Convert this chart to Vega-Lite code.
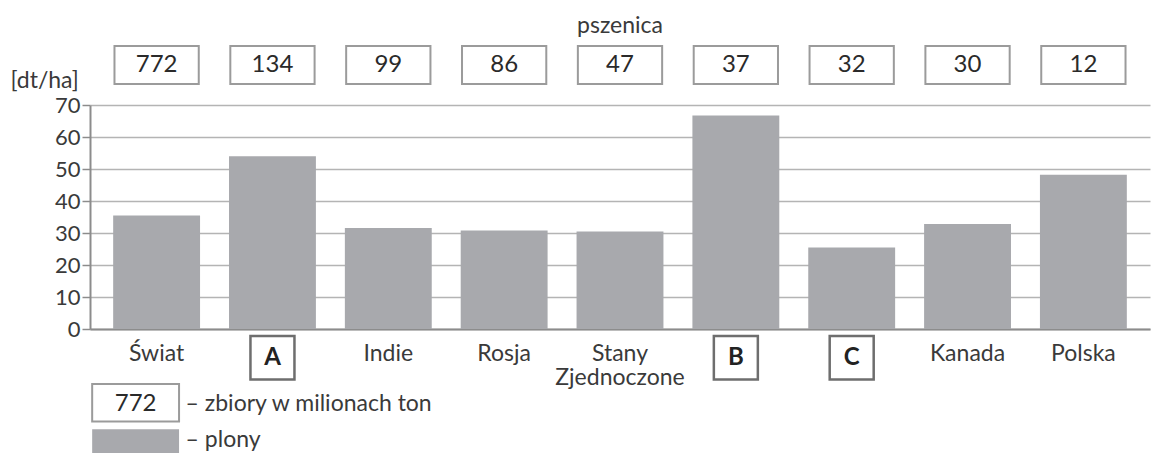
{
  "$schema": "https://vega.github.io/schema/vega-lite/v6.json",
  "width": 1060,
  "height": 224,
  "autosize": {"type": "none"},
  "padding": {"left": 90, "top": 105, "right": 6, "bottom": 124},
  "background": "white",
  "config": {
    "font": "Lato",
    "view": {"stroke": null},
    "text": {"font": "Lato", "color": "#333333"}
  },
  "title": {"text": "pszenica", "font": "Lato", "fontSize": 23, "fontWeight": "normal", "color": "#3a3a3a", "anchor": "middle", "offset": 7},
  "data": {"values": [
    {"kraj": "Świat", "label": "Świat", "plon": 35.5, "zbiory": 772, "boxed": false},
    {"kraj": "A", "label": "A", "plon": 54, "zbiory": 134, "boxed": true},
    {"kraj": "Indie", "label": "Indie", "plon": 31.6, "zbiory": 99, "boxed": false},
    {"kraj": "Rosja", "label": "Rosja", "plon": 30.8, "zbiory": 86, "boxed": false},
    {"kraj": "Stany Zjednoczone", "label": "Stany\nZjednoczone", "plon": 30.5, "zbiory": 47, "boxed": false},
    {"kraj": "B", "label": "B", "plon": 66.7, "zbiory": 37, "boxed": true},
    {"kraj": "C", "label": "C", "plon": 25.5, "zbiory": 32, "boxed": true},
    {"kraj": "Kanada", "label": "Kanada", "plon": 32.8, "zbiory": 30, "boxed": false},
    {"kraj": "Polska", "label": "Polska", "plon": 48.2, "zbiory": 12, "boxed": false}
  ]},
  "resolve": {"axis": {"y": "independent"}},
  "encoding": {
    "x": {"field": "kraj", "type": "nominal", "sort": null,
      "scale": {"paddingInner": 0.25, "paddingOuter": 0.2},
      "axis": {"title": null, "labels": false, "ticks": false, "domain": true, "domainColor": "#8c8c8c", "domainWidth": 2}}
  },
  "layer": [
    {
      "mark": {"type": "bar", "color": "#a8a9ad"},
      "encoding": {
        "y": {"field": "plon", "type": "quantitative",
          "scale": {"domain": [0, 70], "nice": false},
          "axis": {"values": [0, 10, 20, 30, 40, 50, 60, 70], "labelOverlap": false, "grid": true, "gridColor": "#b4b4b4", "gridWidth": 1.5,
            "domainColor": "#8c8c8c", "domainWidth": 2, "tickColor": "#8c8c8c", "tickWidth": 1.5, "tickSize": 8,
            "labelFont": "Lato", "labelFontSize": 22, "labelColor": "#3a3a3a", "labelPadding": 2,
            "title": "[dt/ha]", "titleAngle": 0, "titleAlign": "left", "titleBaseline": "middle", "titleX": -80, "titleY": -25,
            "titleFont": "Lato", "titleFontSize": 23, "titleFontWeight": "normal", "titleColor": "#3a3a3a"}}
      }
    },
    {
      "mark": {"type": "bar", "fill": "white", "stroke": "#9b9b9b", "strokeWidth": 2, "width": {"band": 0.97}},
      "encoding": {"y": {"datum": 76.6, "axis": null}, "y2": {"datum": 88.4}}
    },
    {
      "mark": {"type": "text", "fontSize": 24, "baseline": "middle", "color": "#2a2a2a"},
      "encoding": {"y": {"datum": 82.5, "axis": null}, "text": {"field": "zbiory", "type": "quantitative"}}
    },
    {
      "transform": [{"filter": "!datum.boxed"}],
      "mark": {"type": "text", "fontSize": 23, "baseline": "top", "lineBreak": "\n", "lineHeight": 24, "color": "#3a3a3a"},
      "encoding": {"y": {"datum": -4.3, "axis": null}, "text": {"field": "label"}}
    },
    {
      "transform": [{"filter": "datum.boxed"}],
      "mark": {"type": "bar", "fill": "white", "stroke": "#6e6e6e", "strokeWidth": 2.5, "width": 44},
      "encoding": {"y": {"datum": -2.2, "axis": null}, "y2": {"datum": -15.8}}
    },
    {
      "transform": [{"filter": "datum.boxed"}],
      "mark": {"type": "text", "fontSize": 24, "fontWeight": "bold", "baseline": "middle", "color": "#222222"},
      "encoding": {"y": {"datum": -9.0, "axis": null}, "text": {"field": "label"}}
    },
    {
      "data": {"values": [{}]},
      "mark": {"type": "bar", "fill": "white", "stroke": "#9b9b9b", "strokeWidth": 2, "xOffset": -21, "x2Offset": -21},
      "encoding": {"x": {"datum": "Świat"}, "y": {"datum": -17.2, "axis": null}, "y2": {"datum": -28.9}}
    },
    {
      "data": {"values": [{}]},
      "mark": {"type": "text", "fontSize": 24, "baseline": "middle", "dx": -21, "text": "772", "color": "#2a2a2a"},
      "encoding": {"x": {"datum": "Świat"}, "y": {"datum": -23.3, "axis": null}}
    },
    {
      "data": {"values": [{}]},
      "mark": {"type": "text", "fontSize": 23, "baseline": "middle", "align": "left", "dx": 29, "text": "– zbiory w milionach ton", "color": "#3a3a3a"},
      "encoding": {"x": {"datum": "Świat"}, "y": {"datum": -23.3, "axis": null}}
    },
    {
      "data": {"values": [{}]},
      "mark": {"type": "bar", "fill": "#a8a9ad", "xOffset": -21, "x2Offset": -21},
      "encoding": {"x": {"datum": "Świat"}, "y": {"datum": -31.3, "axis": null}, "y2": {"datum": -40}}
    },
    {
      "data": {"values": [{}]},
      "mark": {"type": "text", "fontSize": 23, "baseline": "middle", "align": "left", "dx": 29, "text": "– plony", "color": "#3a3a3a"},
      "encoding": {"x": {"datum": "Świat"}, "y": {"datum": -34.6, "axis": null}}
    }
  ]
}
